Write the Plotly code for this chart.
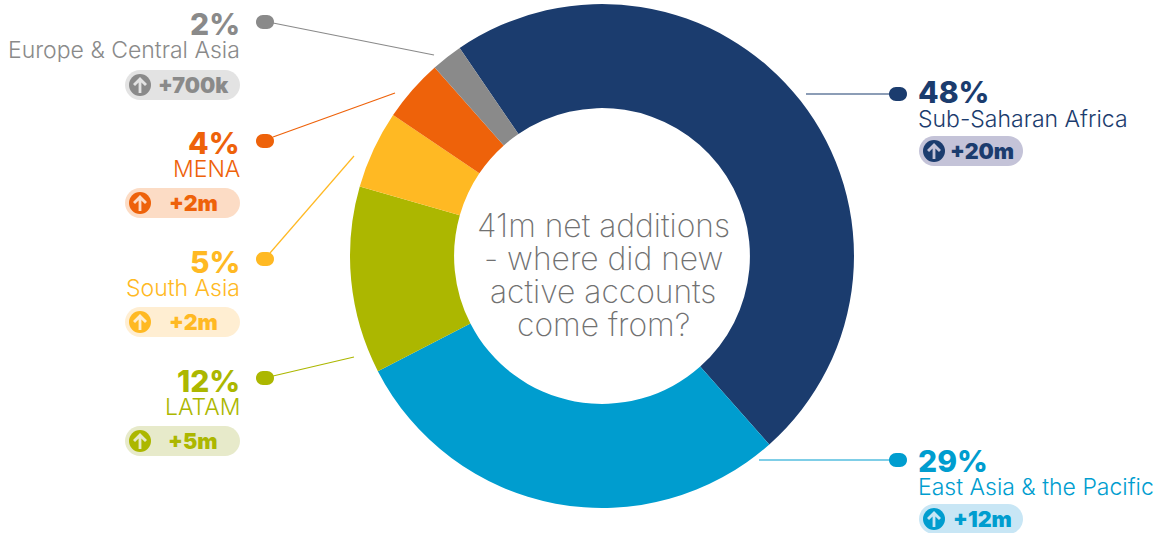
import plotly.graph_objects as go

W, H = 1163, 533

regions = ["Sub-Saharan Africa", "East Asia & the Pacific", "LATAM", "South Asia", "MENA", "Europe & Central Asia"]
shares = [48, 29, 12, 5, 4, 2]
additions = ["+20m", "+12m", "+5m", "+2m", "+2m", "+700k"]
colors = ["#1b3c6e", "#009dcf", "#acb700", "#ffb923", "#ee620a", "#8a8a8a"]
tints = ["#c4c3d8", "#c8e6f5", "#e7eaca", "#ffeed2", "#fcdcc5", "#e3e3e3"]
center_lines = ["41m net additions", "- where did new", "active accounts", "come from?"]

FONT = "Inter"


def px(x):
    return x / W


def py(y):
    return 1 - y / H


# Layout of each callout: side, percent y, label y, pill y, dot y, leader line ends
callouts = [
    dict(side="r", pct=92, lab=119, pill=151, dot=(898, 94), line=(806, 94, 890, 94), val_x=982),
    dict(side="r", pct=461, lab=487, pill=519, dot=(898, 460), line=(759, 460, 890, 460), val_x=982),
    dict(side="l", pct=381, lab=407, pill=441, dot=(265, 378), line=(273, 376, 354, 357), val_x=193),
    dict(side="l", pct=262, lab=288, pill=322, dot=(265, 259), line=(270, 253, 354, 156), val_x=193),
    dict(side="l", pct=143, lab=169, pill=203, dot=(265, 141), line=(273, 137, 395, 93), val_x=193),
    dict(side="l", pct=24, lab=50, pill=85, dot=(265, 22), line=(273, 23, 434, 55), val_x=193),
]


def rounded_rect(x0, y0, x1, y1, r):
    # Rectangle with circular-looking corners built from cubic curves
    k = r * 0.45
    f = lambda a, b: f"{px(a):.5f},{py(b):.5f}"
    return (
        f"M{f(x0 + r, y0)} L{f(x1 - r, y0)} C{f(x1 - k, y0)} {f(x1, y0 + k)} {f(x1, y0 + r)} "
        f"L{f(x1, y1 - r)} C{f(x1, y1 - k)} {f(x1 - k, y1)} {f(x1 - r, y1)} "
        f"L{f(x0 + r, y1)} C{f(x0 + k, y1)} {f(x0, y1 - k)} {f(x0, y1 - r)} "
        f"L{f(x0, y0 + r)} C{f(x0, y0 + k)} {f(x0 + k, y0)} {f(x0 + r, y0)} Z"
    )


def arrow_path(cx, cy):
    pts = [(cx - 1.4, cy + 8), (cx + 1.4, cy + 8), (cx + 1.4, cy - 2.5), (cx + 5, cy + 1), (cx + 7, cy - 1),
           (cx, cy - 8), (cx - 7, cy - 1), (cx - 5, cy + 1), (cx - 1.4, cy - 2.5)]
    return "M" + " L".join(f"{px(a):.5f},{py(b):.5f}" for a, b in pts) + " Z"


fig = go.Figure(
    go.Pie(
        labels=regions,
        values=shares,
        hole=0.587,
        sort=False,
        direction="clockwise",
        rotation=-34.4,
        marker=dict(colors=colors, line=dict(width=0)),
        textinfo="none",
        showlegend=False,
        domain=dict(x=[px(350), px(854)], y=[py(508), py(4)]),
    )
)

shapes, notes = [], []


def text(x, y, s, size, color, anchor, weight, box):
    # Fixed box heights keep the tightly stacked lines from claiming each other's space
    notes.append(dict(
        x=px(x), y=py(y), xref="paper", yref="paper", text=s, showarrow=False,
        xanchor=anchor, yanchor="middle", valign="middle", borderpad=0, height=box,
        font=dict(family=FONT, size=size, color=color, weight=weight),
    ))


for name, share, add, col, tint, c in zip(regions, shares, additions, colors, tints, callouts):
    right = c["side"] == "r"
    tx = 917 if right else 241
    anchor = "left" if right else "right"
    text(tx, c["pct"], f"{share}%", 30, col, anchor, 800, 26)
    text(tx, c["lab"], name, 23, col, anchor, 300, 24)

    x0, x1 = (919, 1023) if right else (125, 240)
    cx = 934 if right else 140
    yc = c["pill"]
    shapes.append(dict(type="path", xref="paper", yref="paper", path=rounded_rect(x0, yc - 15, x1, yc + 15, 15),
                       fillcolor=tint, line=dict(width=0), layer="above"))
    shapes.append(dict(type="circle", xref="paper", yref="paper", x0=px(cx - 11), x1=px(cx + 11),
                       y0=py(yc + 11), y1=py(yc - 11), fillcolor=col, line=dict(width=0), layer="above"))
    shapes.append(dict(type="path", xref="paper", yref="paper", path=arrow_path(cx, yc), fillcolor=tint,
                       line=dict(width=0), layer="above"))
    text(c["val_x"], yc, add, 21.5, col, "center", 900, 26)

    lx0, ly0, lx1, ly1 = c["line"]
    shapes.append(dict(type="line", xref="paper", yref="paper", x0=px(lx0), y0=py(ly0), x1=px(lx1), y1=py(ly1),
                       line=dict(color=col, width=1.2), layer="above"))
    dx, dy = c["dot"]
    shapes.append(dict(type="path", xref="paper", yref="paper", path=rounded_rect(dx - 9, dy - 7, dx + 9, dy + 7, 7),
                       fillcolor=col, line=dict(width=0), layer="above"))

# Centre caption: four tightly spaced lines, each placed on its own baseline
for i, line in enumerate(center_lines):
    text(603, 225 + 33 * i, line, 31.8, "#717171", "center", 200, 32)

fig.update_layout(
    width=W, height=H,
    margin=dict(l=0, r=0, t=0, b=0),
    paper_bgcolor="white",
    shapes=shapes,
    annotations=notes,
)

fig.write_html("out.html", config=dict(displayModeBar=False))
